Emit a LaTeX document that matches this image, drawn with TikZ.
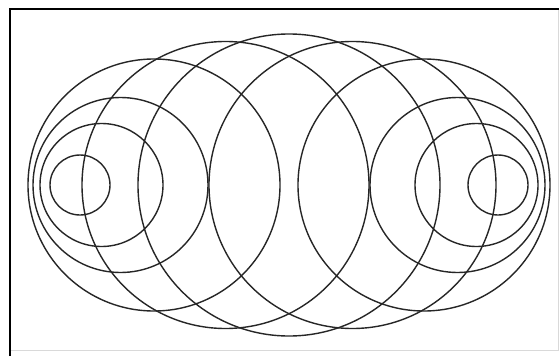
\documentclass[tikz,border=0pt]{standalone}
\usepackage{tikz}

\begin{document}
\begin{tikzpicture}[x=1pt,y=-1pt,ring/.style={draw=black!85,line width=1.4pt}]
\useasboundingbox (0,0) rectangle (559,356);
\fill[white] (0,0) rectangle (559,356);
% frame
\draw[gray!30,line width=0.8pt] (558,9) -- (558,350) -- (10,350);
\draw[black,line width=1.3pt] (10,356) -- (10,9) -- (559,9);
% circles swept along the axis
\foreach \c/\r in {80/30,101.5/61.5,120.5/87.5,154/126,225.5/143.5,289/151,352.5/143.5,424/126,457.5/87.5,476.5/61.5,498/30}
  \draw[ring] (\c,185) circle[radius=\r pt];
\end{tikzpicture}
\end{document}
